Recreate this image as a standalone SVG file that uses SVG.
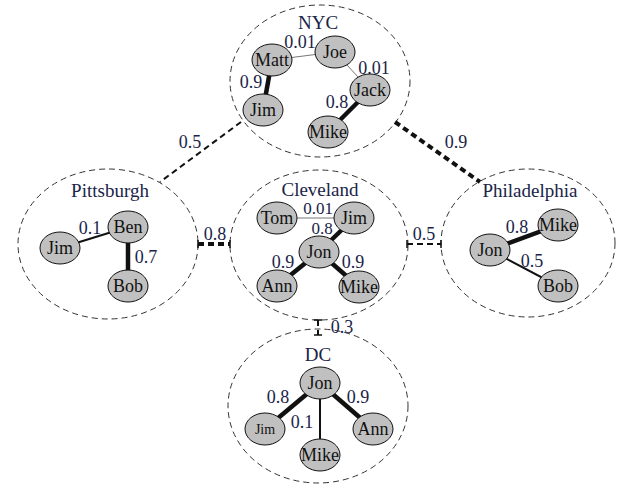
<svg xmlns="http://www.w3.org/2000/svg" width="617" height="486" viewBox="0 0 617 486">
<style>
.cl{fill:none;stroke:#333;stroke-width:1;stroke-dasharray:6 4}
.nd{fill:#c0c0c0;stroke:#111;stroke-width:1}
.nt{font-family:"Liberation Serif",serif;font-size:18px;fill:#111;text-anchor:middle}
.ct{font-family:"Liberation Serif",serif;font-size:19px;fill:#1a2448;text-anchor:middle}
.wt{font-family:"Liberation Serif",serif;font-size:18px;fill:#1a2448;text-anchor:middle}
.thin{stroke:#777;stroke-width:1}
.med{stroke:#111;stroke-width:2}
.thk{stroke:#111;stroke-width:4.5}
.lk1{stroke:#111;stroke-width:2;stroke-dasharray:6 4;fill:none}
.lk2{stroke:#111;stroke-width:4;stroke-dasharray:6 4;fill:none}
.tk{stroke:#111;stroke-width:1.5}
</style>
<rect width="617" height="486" fill="#fff"/>
<g id="clusters">
<g id="c-nyc"><ellipse class="cl" cx="320" cy="81" rx="90" ry="76"/><text class="ct" x="318" y="29">NYC</text></g>
<g id="c-pittsburgh"><ellipse class="cl" cx="108" cy="244" rx="90" ry="75"/><text class="ct" x="110" y="197">Pittsburgh</text></g>
<g id="c-cleveland"><ellipse class="cl" cx="319" cy="245" rx="89" ry="75"/><text class="ct" x="320" y="196">Cleveland</text></g>
<g id="c-philadelphia"><ellipse class="cl" cx="528" cy="243" rx="87" ry="74"/><text class="ct" x="530" y="197">Philadelphia</text></g>
<g id="c-dc"><ellipse class="cl" cx="318" cy="406" rx="90" ry="77"/><text class="ct" x="318" y="361">DC</text></g>
</g>
<g id="connectors">
<line class="lk1" x1="241" y1="122" x2="160" y2="182"/>
<line class="lk2" x1="395" y1="122" x2="480" y2="182"/>
<line class="lk2" x1="198" y1="244" x2="230" y2="244"/>
<line class="tk" x1="198" y1="240" x2="198" y2="248"/><line class="tk" x1="230" y1="240" x2="230" y2="248"/>
<line class="lk1" x1="407" y1="244" x2="441" y2="244"/>
<line class="tk" x1="407" y1="240" x2="407" y2="248"/><line class="tk" x1="441" y1="240" x2="441" y2="248"/>
<line class="lk1" x1="318" y1="320" x2="318" y2="335"/>
<line class="tk" x1="314" y1="320" x2="322" y2="320"/><line class="tk" x1="314" y1="335" x2="322" y2="335"/>
<line class="thin" x1="272" y1="60" x2="335" y2="52"/>
<line class="thin" x1="335" y1="52" x2="370" y2="90"/>
<line class="thk" x1="272" y1="60" x2="263" y2="110"/>
<line class="thk" x1="370" y1="90" x2="328" y2="132"/>
<line class="med" x1="128" y1="227" x2="60" y2="248"/>
<line class="thk" x1="128" y1="227" x2="128" y2="286"/>
<line class="thin" x1="277" y1="218" x2="354" y2="218"/>
<line class="thk" x1="319" y1="252" x2="354" y2="218"/>
<line class="thk" x1="319" y1="252" x2="277" y2="286"/>
<line class="thk" x1="319" y1="252" x2="359" y2="287"/>
<line class="thk" x1="490" y1="250" x2="558" y2="225"/>
<line class="med" x1="490" y1="250" x2="558" y2="286"/>
<line class="thk" x1="320" y1="383" x2="265" y2="429"/>
<line class="thk" x1="320" y1="383" x2="373" y2="429"/>
<line class="med" x1="320" y1="383" x2="320" y2="455"/>
</g>
<g id="weights">
<text class="wt" x="190" y="148">0.5</text>
<text class="wt" x="456" y="148">0.9</text>
<text class="wt" x="215" y="240">0.8</text>
<text class="wt" x="424" y="240">0.5</text>
<text class="wt" x="342" y="333">0.3</text>
<text class="wt" x="300" y="48">0.01</text>
<text class="wt" x="374" y="74">0.01</text>
<text class="wt" x="251" y="88">0.9</text>
<text class="wt" x="337" y="108">0.8</text>
<text class="wt" x="90" y="234">0.1</text>
<text class="wt" x="146" y="263">0.7</text>
<text class="wt" x="318" y="214" style="font-size:17px">0.01</text>
<text class="wt" x="322" y="234" style="font-size:17px">0.8</text>
<text class="wt" x="283" y="268">0.9</text>
<text class="wt" x="353" y="268">0.9</text>
<text class="wt" x="517" y="233">0.8</text>
<text class="wt" x="532" y="267">0.5</text>
<text class="wt" x="278" y="403">0.8</text>
<text class="wt" x="358" y="403">0.9</text>
<text class="wt" x="302" y="428">0.1</text>
</g>
<g id="n-nyc-matt"><ellipse class="nd" cx="272" cy="60" rx="20" ry="16"/><text class="nt" x="272" y="66">Matt</text></g>
<g id="n-nyc-joe"><ellipse class="nd" cx="335" cy="52" rx="20" ry="16"/><text class="nt" x="335" y="58">Joe</text></g>
<g id="n-nyc-jack"><ellipse class="nd" cx="370" cy="90" rx="20" ry="16"/><text class="nt" x="370" y="96">Jack</text></g>
<g id="n-nyc-jim"><ellipse class="nd" cx="263" cy="110" rx="20" ry="16"/><text class="nt" x="263" y="116">Jim</text></g>
<g id="n-nyc-mike"><ellipse class="nd" cx="328" cy="132" rx="20" ry="16"/><text class="nt" x="328" y="138">Mike</text></g>
<g id="n-pit-ben"><ellipse class="nd" cx="128" cy="227" rx="20" ry="16"/><text class="nt" x="128" y="233">Ben</text></g>
<g id="n-pit-jim"><ellipse class="nd" cx="60" cy="248" rx="20" ry="16"/><text class="nt" x="60" y="254">Jim</text></g>
<g id="n-pit-bob"><ellipse class="nd" cx="128" cy="286" rx="20" ry="16"/><text class="nt" x="128" y="292">Bob</text></g>
<g id="n-cle-tom"><ellipse class="nd" cx="277" cy="218" rx="20" ry="16"/><text class="nt" x="277" y="224">Tom</text></g>
<g id="n-cle-jim"><ellipse class="nd" cx="354" cy="218" rx="20" ry="16"/><text class="nt" x="354" y="224">Jim</text></g>
<g id="n-cle-jon"><ellipse class="nd" cx="319" cy="252" rx="20" ry="16"/><text class="nt" x="319" y="258">Jon</text></g>
<g id="n-cle-ann"><ellipse class="nd" cx="277" cy="286" rx="20" ry="16"/><text class="nt" x="277" y="292">Ann</text></g>
<g id="n-cle-mike"><ellipse class="nd" cx="359" cy="287" rx="20" ry="16"/><text class="nt" x="359" y="293">Mike</text></g>
<g id="n-phi-mike"><ellipse class="nd" cx="558" cy="225" rx="20" ry="16"/><text class="nt" x="558" y="231">Mike</text></g>
<g id="n-phi-jon"><ellipse class="nd" cx="490" cy="250" rx="20" ry="16"/><text class="nt" x="490" y="256">Jon</text></g>
<g id="n-phi-bob"><ellipse class="nd" cx="558" cy="286" rx="20" ry="16"/><text class="nt" x="558" y="292">Bob</text></g>
<g id="n-dc-jon"><ellipse class="nd" cx="320" cy="383" rx="20" ry="16"/><text class="nt" x="320" y="389">Jon</text></g>
<g id="n-dc-jim"><ellipse class="nd" cx="265" cy="429" rx="20" ry="16"/><text class="nt" x="265" y="434" style="font-size:14px">Jim</text></g>
<g id="n-dc-ann"><ellipse class="nd" cx="373" cy="429" rx="20" ry="16"/><text class="nt" x="373" y="435">Ann</text></g>
<g id="n-dc-mike"><ellipse class="nd" cx="320" cy="455" rx="20" ry="16"/><text class="nt" x="320" y="461">Mike</text></g>
</svg>
